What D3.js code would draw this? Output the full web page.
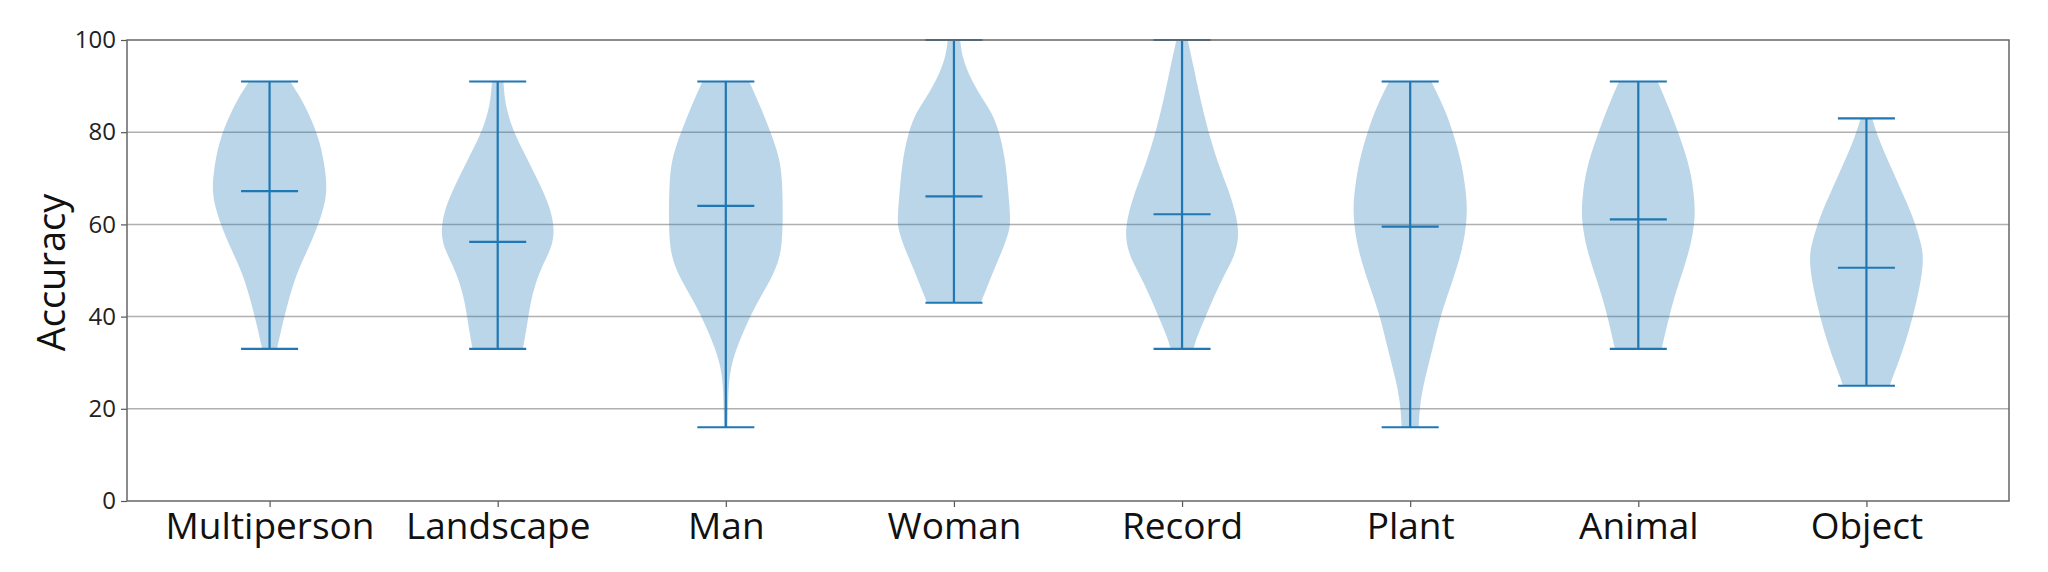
<!DOCTYPE html>
<html>
<head>
<meta charset="utf-8">
<script src="https://cdn.jsdelivr.net/npm/d3@7"></script>
<style>
  html, body { margin: 0; padding: 0; background: #fff; }
  svg { display: block; font-family: "Open Sans", sans-serif; }
</style>
</head>
<body>
<div id="chart"></div>
<script>
// categories and summary values
const categories = ['Multiperson', 'Landscape', 'Man', 'Woman', 'Record', 'Plant', 'Animal', 'Object']
const mins = [33, 33, 16, 43, 33, 16, 33, 25]
const maxs = [91, 91, 91, 100, 100, 91, 91, 83]
const means = [67.2, 56.2, 64.0, 66.1, 62.2, 59.5, 61.1, 50.6]
const yTicks = [0, 20, 40, 60, 80, 100]

// violin outlines: [accuracy, relative density]
const multipersonShape = [[91,0.36],[88,0.52],[84,0.69],[78,0.89],[71,0.99],[67,1.0],[64,0.96],[59,0.83],[54,0.65],[49,0.46],[43,0.32],[37,0.2],[33,0.13]]
const landscapeShape = [[91,0.1],[86,0.13],[80.5,0.26],[74.7,0.5],[68.9,0.73],[63.8,0.92],[58.8,1.0],[55.1,0.95],[51.5,0.8],[47.2,0.66],[42.8,0.57],[38.5,0.52],[34.2,0.46],[33,0.44]]
const manShape = [[91,0.41],[85.5,0.61],[80.5,0.77],[74.7,0.94],[69.6,0.99],[62.4,1.0],[55.9,0.99],[51.5,0.92],[47.2,0.75],[42.8,0.54],[38.5,0.37],[34.2,0.22],[29.8,0.1],[25.5,0.05],[21.1,0.04],[16,0.03]]
const womanShape = [[100,0.11],[96.4,0.14],[91.3,0.3],[86.3,0.55],[83.4,0.7],[79,0.82],[73.2,0.91],[67.4,0.95],[61.6,0.99],[58.8,0.98],[54.4,0.85],[50.1,0.7],[45.7,0.56],[43,0.47]]
const recordShape = [[100,0.1],[94.9,0.19],[87.7,0.31],[80.5,0.45],[73.2,0.63],[67.4,0.82],[61.6,0.96],[57.3,1.0],[53,0.92],[48.6,0.72],[44.3,0.56],[39.9,0.41],[35.6,0.26],[33,0.2]]
const plantShape = [[91,0.37],[85.5,0.59],[80.5,0.74],[73.2,0.91],[66,0.99],[61.6,1.0],[55.1,0.93],[47.9,0.75],[40.7,0.54],[33.4,0.4],[26.2,0.25],[21.1,0.17],[16,0.15]]
const animalShape = [[91,0.34],[85.5,0.53],[79,0.73],[71.8,0.92],[66,0.98],[61.6,1.0],[55.9,0.93],[50.1,0.79],[44.3,0.63],[38.5,0.51],[33,0.41]]
const objectShape = [[83,0.1],[79,0.2],[73.2,0.4],[67.4,0.61],[61.6,0.82],[55.9,0.96],[53,1.0],[48.6,0.97],[42.8,0.87],[37,0.75],[31.3,0.6],[26.9,0.46],[25,0.41]]
const shapes = [multipersonShape, landscapeShape, manShape, womanShape, recordShape, plantShape, animalShape, objectShape]

const width = 2048, height = 572
const margin = {top: 40, right: 39, bottom: 71, left: 127}
const blue = '#1f77b4'

const svg = d3.select('#chart').append('svg')
  .attr('width', width)
  .attr('height', height)

// matplotlib style limits: positions 1..8, widths 0.5, 5% margins
const x = d3.scaleLinear().domain([0.375, 8.625]).range([margin.left, width - margin.right])
const y = d3.scaleLinear().domain([0, 100]).range([height - margin.bottom, margin.top])
const halfW = x(0.25) - x(0)
const capW = x(0.125) - x(0)

// grid
svg.append('g').selectAll('line').data(yTicks.slice(1, -1)).enter().append('line')
  .attr('x1', margin.left).attr('x2', width - margin.right)
  .attr('y1', d => y(d)).attr('y2', d => y(d))
  .attr('stroke', '#b0b0b0').attr('stroke-width', 1.5)

// violin bodies
const area = d3.area()
  .y(d => y(d[0]))
  .curve(d3.curveBasis)

const violins = svg.append('g').selectAll('g').data(categories).enter().append('g')

violins.append('path')
  .attr('d', (d, i) => {
    const cx = x(i + 1)
    return area.x0(p => cx - p[1] * halfW).x1(p => cx + p[1] * halfW)(shapes[i])
  })
  .attr('fill', blue)
  .attr('fill-opacity', 0.3)

// bars, caps and means
violins.append('line')
  .attr('x1', (d, i) => x(i + 1)).attr('x2', (d, i) => x(i + 1))
  .attr('y1', (d, i) => y(mins[i])).attr('y2', (d, i) => y(maxs[i]))
  .attr('stroke', blue).attr('stroke-width', 2.2)

const caps = [mins, maxs, means]
caps.forEach(arr => {
  violins.append('line')
    .attr('x1', (d, i) => x(i + 1) - capW).attr('x2', (d, i) => x(i + 1) + capW)
    .attr('y1', (d, i) => y(arr[i])).attr('y2', (d, i) => y(arr[i]))
    .attr('stroke', blue).attr('stroke-width', 2.2)
})

// axes
const yAxis = svg.append('g')
  .attr('transform', `translate(${margin.left},0)`)
  .call(d3.axisLeft(y).tickValues(yTicks).tickSize(6).tickPadding(5))
yAxis.select('.domain').remove()
yAxis.selectAll('line').attr('stroke', '#555').attr('stroke-width', 1.2)
yAxis.selectAll('text').attr('font-size', 24).attr('fill', '#222').attr('font-family', '"Open Sans", sans-serif')

const xAxis = svg.append('g')
  .attr('transform', `translate(0,${height - margin.bottom})`)
  .call(d3.axisBottom(x).tickValues(d3.range(1, 9)).tickFormat(i => categories[i - 1]).tickSize(6).tickPadding(6))
xAxis.select('.domain').remove()
xAxis.selectAll('line').attr('stroke', '#555').attr('stroke-width', 1.2)
xAxis.selectAll('text').attr('font-size', 37).attr('fill', '#111').attr('font-family', '"Open Sans", sans-serif')

// frame
svg.append('rect')
  .attr('x', margin.left).attr('y', margin.top)
  .attr('width', width - margin.left - margin.right)
  .attr('height', height - margin.top - margin.bottom)
  .attr('fill', 'none').attr('stroke', '#666').attr('stroke-width', 1.5)

// y label
svg.append('text')
  .attr('transform', `translate(${50},${(margin.top + height - margin.bottom) / 2 + 2}) rotate(-90)`)
  .attr('text-anchor', 'middle')
  .attr('dominant-baseline', 'central')
  .attr('font-size', 38)
  .attr('fill', '#111')
  .text('Accuracy')
</script>
</body>
</html>
